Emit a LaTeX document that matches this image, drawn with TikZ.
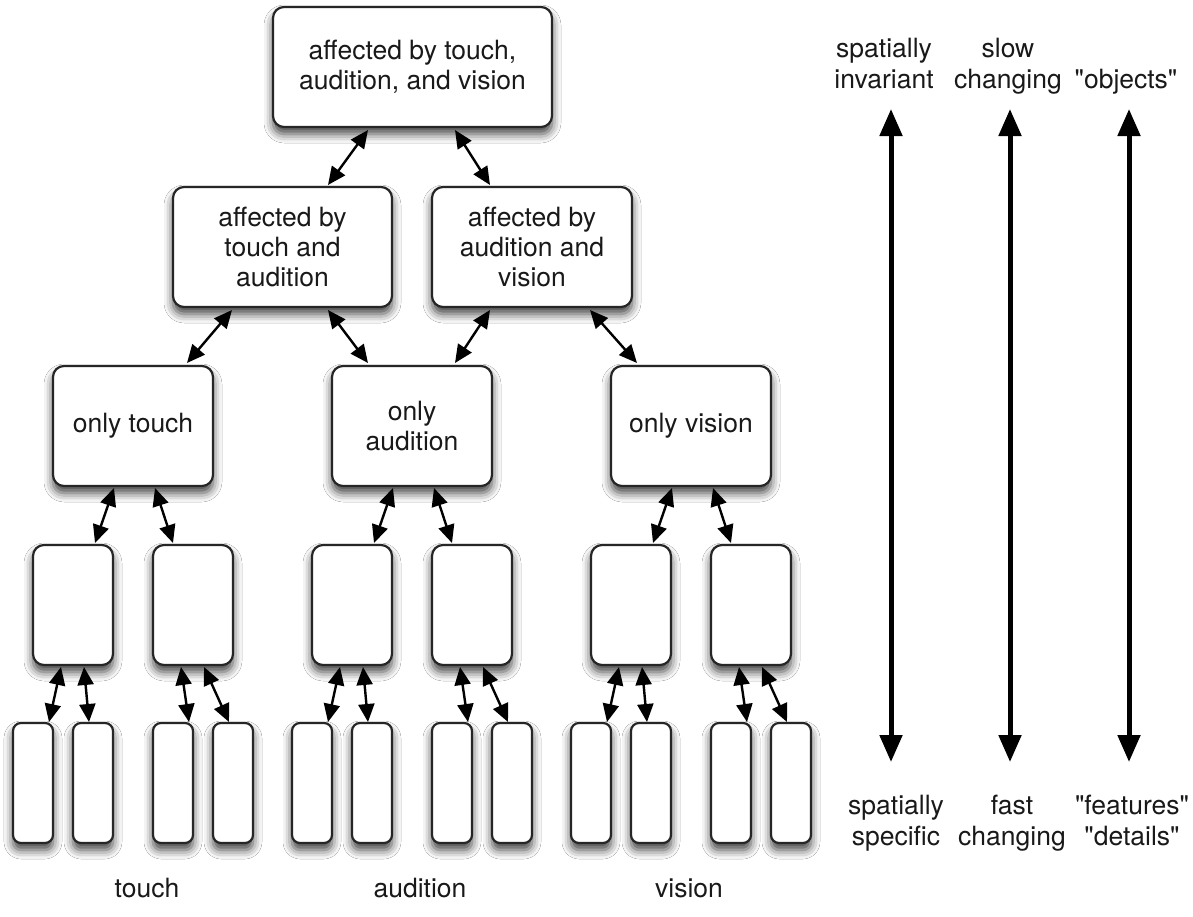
\documentclass[tikz,border=0pt]{standalone}
\usepackage{fontspec}
\newfontfamily\heros{TeX Gyre Heros}
\usetikzlibrary{arrows.meta,shadows.blur}
\begin{document}
\begin{tikzpicture}[x=1pt,y=-1pt,
  txt/.style={font=\heros\fontsize{26.5}{30}\selectfont, text=black!90, align=center, inner sep=0pt},
  side/.style={txt, font=\heros\fontsize{26.5}{31}\selectfont},
  box/.style={txt, draw=black!85, line width=2.2pt, fill=white, rounded corners=11pt, outer sep=0pt,
    blur shadow={shadow xshift=0pt, shadow yshift=-7pt, shadow blur radius=9pt, shadow opacity=75}},
  leaf/.style={box, rounded corners=8pt, minimum width=40pt, minimum height=120pt},
  mid/.style={box, minimum width=80pt, minimum height=120pt},
  link/.style={line width=2.4pt, black, {Triangle[length=18pt,width=16pt]}-{Triangle[length=18pt,width=16pt]}},
  axisarrow/.style={line width=5pt, black, {Triangle[length=27pt,width=22pt]}-{Triangle[length=27pt,width=22pt]}}
]
\useasboundingbox (0,0) rectangle (1193,916);
\fill[white] (0,0) rectangle (1193,916);

% top levels
\node[box, minimum width=279pt, minimum height=120pt] (T) at (412.5,67) {affected by touch,\\audition, and vision};
\node[box, minimum width=219pt, minimum height=120pt] (TA) at (282.5,247) {affected by\\touch and\\audition};
\node[box, minimum width=200pt, minimum height=120pt] (AV) at (532,247) {affected by\\audition and\\vision};
\node[box, minimum width=160pt, minimum height=120pt] (OT) at (133,426) {only touch};
\node[box, minimum width=160pt, minimum height=120pt] (OA) at (412,426) {only\\audition};
\node[box, minimum width=160pt, minimum height=120pt] (OV) at (691,426) {only vision};

% level 4
\node[mid] (M1) at (73,605) {};
\node[mid] (M2) at (193,605) {};
\node[mid] (M3) at (352,605) {};
\node[mid] (M4) at (472,605) {};
\node[mid] (M5) at (631,605) {};
\node[mid] (M6) at (751,605) {};

% level 5
\foreach \i/\x in {1/33,2/93,3/173,4/233,5/312,6/372,7/452,8/512,9/591,10/651,11/731,12/791}
  \node[leaf] (L\i) at (\x,783) {};

% connectors top
\draw[link] ([xshift=95pt,yshift=-3pt]T.south west) -- ([xshift=155pt,yshift=2pt]TA.north west);
\draw[link] ([xshift=182pt,yshift=-3pt]T.south west) -- ([xshift=58pt,yshift=2pt]AV.north west);
\draw[link] ([xshift=59pt,yshift=-3pt]TA.south west) -- ([xshift=134pt,yshift=3pt]OT.north west);
\draw[link] ([xshift=155pt,yshift=-3pt]TA.south west) -- ([xshift=36pt,yshift=3pt]OA.north west);
\draw[link] ([xshift=58pt,yshift=-3pt]AV.south west) -- ([xshift=123pt,yshift=3pt]OA.north west);
\draw[link] ([xshift=158pt,yshift=-3pt]AV.south west) -- ([xshift=26pt,yshift=3pt]OV.north west);

% level 3 -> level 4
\foreach \p/\a/\b in {OT/M1/M2, OA/M3/M4, OV/M5/M6}{
  \draw[link] ([xshift=61pt,yshift=-2pt]\p.south west) -- ([xshift=62pt,yshift=2pt]\a.north west);
  \draw[link] ([xshift=102pt,yshift=-2pt]\p.south west) -- ([xshift=20pt,yshift=2pt]\b.north west);
}

% level 4 -> level 5
\foreach \p/\a/\b in {M1/L1/L2, M2/L3/L4, M3/L5/L6, M4/L7/L8, M5/L9/L10, M6/L11/L12}{
  \draw[link] ([xshift=28pt,yshift=-2pt]\p.south west) -- ([xshift=36pt,yshift=1pt]\a.north west);
  \draw[link] ([xshift=51pt,yshift=-2pt]\p.south west) -- ([xshift=16pt,yshift=1pt]\b.north west);
}

% bottom labels
\node[txt, anchor=base] (lt) at (147,897) {touch};
\node[txt, anchor=base] (la) at (420,897) {audition};
\node[txt, anchor=base] (lv) at (689,897) {vision};

% right scales (base = last line)
\node[side, anchor=base] (s1t) at (884,88) {spatially\\invariant};
\node[side, anchor=base] (s2t) at (1008,88) {slow\\changing};
\node[side, anchor=base] (s3t) at (1126,88) {"objects"};
\node[side, anchor=base] (s1b) at (896,845) {spatially\\specific};
\node[side, anchor=base] (s2b) at (1012,845) {fast\\changing};
\node[side, anchor=base] (s3b) at (1132,845) {"features"\\"details"};

\coordinate (a1t) at (891,109); \coordinate (a1b) at (891,762);
\coordinate (a2t) at (1010,109); \coordinate (a2b) at (1010,762);
\coordinate (a3t) at (1129,109); \coordinate (a3b) at (1129,762);
\draw[axisarrow] (a1t) -- (a1b);
\draw[axisarrow] (a2t) -- (a2b);
\draw[axisarrow] (a3t) -- (a3b);
\end{tikzpicture}
\end{document}
